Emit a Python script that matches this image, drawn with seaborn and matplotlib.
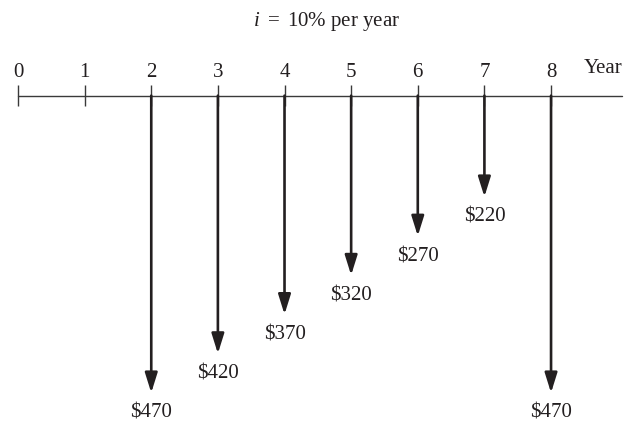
import numpy as np
import pandas as pd
import seaborn as sns
import matplotlib.pyplot as plt

# cash flow data
years = [0, 1, 2, 3, 4, 5, 6, 7, 8]
flow_years = [2, 3, 4, 5, 6, 7, 8]
flow_amounts = [470, 420, 370, 320, 270, 220, 470]
flow_labels = ["$470", "$420", "$370", "$320", "$270", "$220", "$470"]
title_text = r"$i$ $=$ 10% per year"

sns.set_theme(style="white")
plt.rcParams["font.family"] = ["Liberation Serif", "DejaVu Serif"]
plt.rcParams["mathtext.fontset"] = "custom"
plt.rcParams["mathtext.it"] = "Liberation Serif:italic"
plt.rcParams["mathtext.rm"] = "Liberation Serif"

fig = plt.figure(figsize=(6.33, 4.23), dpi=100)
ax = fig.add_axes([0, 0, 1, 1])

axis_y = -91  # where the time line sits
ink = "#231f20"
fs = 15

# time line
line = pd.DataFrame({"x": [0, 9.07], "y": [axis_y, axis_y]})
sns.lineplot(data=line, x="x", y="y", ax=ax, color="#3a3a3a", lw=1.0)
ax.vlines(years, axis_y - 13.5, axis_y + 13.5, color="#3a3a3a", lw=1.0)

for yr in years:
    ax.text(yr, axis_y + 30, str(yr), ha="center", va="center", fontsize=fs, color=ink)
ax.text(8.78, axis_y + 34, "Year", ha="center", va="center", fontsize=fs, color=ink)

# cash flow arrows
for x, v, lab in zip(flow_years, flow_amounts, flow_labels):
    ax.annotate("", xy=(x, -v), xytext=(x, axis_y),
                arrowprops=dict(arrowstyle="-|>,head_length=0.8,head_width=0.25",
                                mutation_scale=15, lw=1.9, color=ink,
                                shrinkA=0, shrinkB=0))
    ax.annotate(lab, xy=(x, -v), xytext=(0, -8), textcoords="offset points",
                ha="center", va="top", fontsize=fs, color=ink)

ax.text(4.63, 4, title_text, ha="center", va="center", fontsize=fs, color=ink)

ax.set_xlim(-0.27, 9.23)
ax.set_ylim(-508.5, 31)
ax.axis("off")

fig.savefig("out.png", dpi=100)
